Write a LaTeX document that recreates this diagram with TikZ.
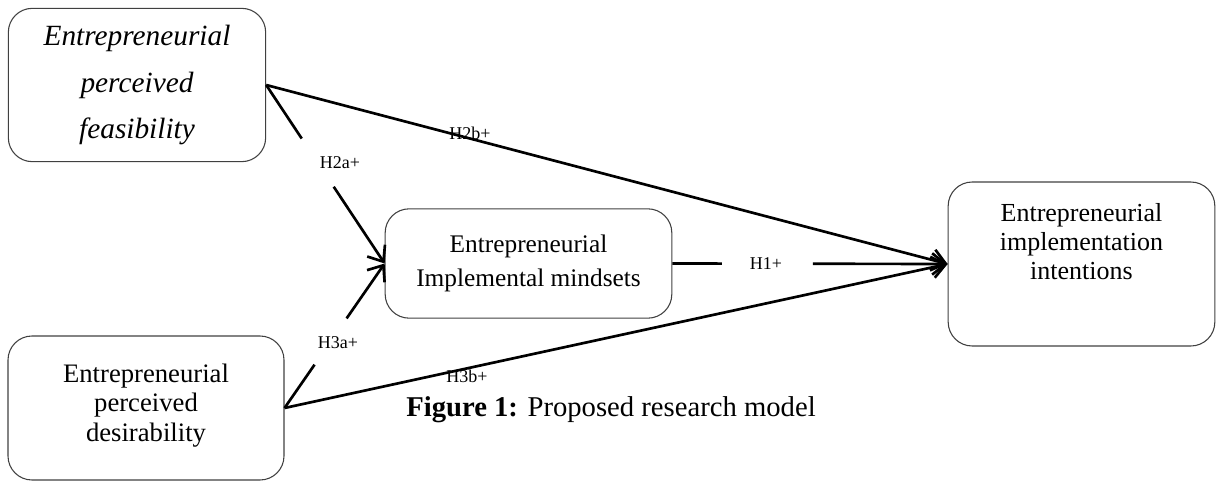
\documentclass[tikz,border=0pt]{standalone}
\usepackage{fontspec}
\setmainfont{Liberation Serif}
\usetikzlibrary{arrows.meta,calc}
\tikzset{
  block/.style={draw=black!75,line width=0.8pt,rounded corners=18pt,align=center},
  hyp/.style={font=\fontsize{13.5}{15}\selectfont,inner sep=1pt},
  link/.style={line width=2pt},
  linkto/.style={link,-{Straight Barb[length=10pt,width=16pt,line width=2pt]}},
}
\begin{document}
\begin{tikzpicture}[x=0.75pt,y=-0.75pt]
  \useasboundingbox (0,0) rectangle (1216,481);
  % constructs
  \node[block,minimum width=193pt,minimum height=115pt,
    font=\fontsize{22}{35}\selectfont\itshape] (fea) at (137,85)
    {Entrepreneurial\\perceived\\feasibility};
  \node[block,minimum width=207pt,minimum height=108pt,
    font=\fontsize{20}{22}\selectfont] (des) at (146,408)
    {Entrepreneurial\\perceived\\desirability\\[-14pt]\mbox{}};
  \node[block,minimum width=215pt,minimum height=82pt,
    font=\fontsize{19}{26}\selectfont] (imp) at (528.5,263.5)
    {Entrepreneurial\\Implemental mindsets};
  \node[block,minimum width=200pt,minimum height=123pt,
    font=\fontsize{19.5}{22}\selectfont] (int) at (1081.5,264)
    {Entrepreneurial\\implementation\\intentions\\[12pt]\mbox{}};
  % hypotheses
  \node[hyp] (h2a) at (340,163) {H2a+};
  \node[hyp] (h3a) at (338,343) {H3a+};
  \node[hyp] (h2b) at (470,133) {H2b+};
  \node[hyp] (h3b) at (467,376) {H3b+};
  \node[hyp] (h1) at (766,264) {H1+};
  \coordinate (h2aIn) at ($(fea.east)!0.30!(imp.west)$);
  \coordinate (h2aOut) at ($(fea.east)!0.57!(imp.west)$);
  \coordinate (h3aIn) at ($(des.east)!0.30!(imp.west)$);
  \coordinate (h3aOut) at ($(des.east)!0.62!(imp.west)$);
  \coordinate (h1In) at ($(imp.east)!0.18!(int.west)$);
  \coordinate (h1Out) at ($(imp.east)!0.51!(int.west)$);
  \draw[link] (fea.east) -- (h2aIn);
  \draw[linkto] (h2aOut) -- (imp.west);
  \draw[link] (des.east) -- (h3aIn);
  \draw[linkto] (h3aOut) -- (imp.west);
  \draw[link] (imp.east) -- (h1In);
  \draw[linkto] (h1Out) -- (int.west);
  \draw[linkto] (fea.east) -- (int.west);
  \draw[linkto] (des.east) -- (int.west);
  \node[font=\fontsize{21.5}{25}\selectfont] (cap) at (611,410)
    {\textbf{Figure 1:} Proposed research model};
\end{tikzpicture}
\end{document}
